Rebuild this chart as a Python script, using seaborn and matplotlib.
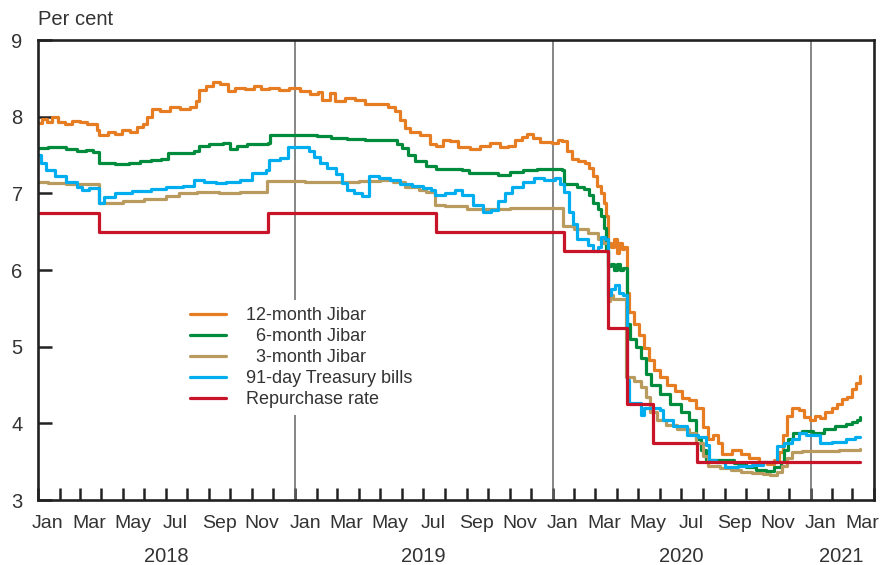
import pandas as pd
import matplotlib
matplotlib.use("Agg")
import matplotlib.pyplot as plt
import matplotlib.dates as mdates
import matplotlib.transforms as mtransforms
import seaborn as sns

# ---- data ----
jibar12_dates = [
    "2018-01-01", "2018-01-07", "2018-01-14", "2018-01-21", "2018-01-29", "2018-02-08",
    "2018-02-18", "2018-03-01", "2018-03-12", "2018-03-25", "2018-03-29", "2018-04-10",
    "2018-04-20", "2018-04-30", "2018-05-11", "2018-05-22", "2018-05-30", "2018-06-04",
    "2018-06-12", "2018-06-23", "2018-07-07", "2018-07-21", "2018-08-04", "2018-08-13",
    "2018-08-18", "2018-08-28", "2018-09-06", "2018-09-16", "2018-09-27", "2018-10-07",
    "2018-10-21", "2018-11-04", "2018-11-14", "2018-11-25", "2018-12-09", "2018-12-23",
    "2019-01-08", "2019-01-22", "2019-02-02", "2019-02-08", "2019-02-19", "2019-02-27",
    "2019-03-13", "2019-03-27", "2019-04-10", "2019-04-28", "2019-05-12", "2019-05-22",
    "2019-05-29", "2019-06-05", "2019-06-13", "2019-06-27", "2019-07-11", "2019-07-20",
    "2019-07-30", "2019-08-08", "2019-08-20", "2019-09-06", "2019-09-20", "2019-10-04",
    "2019-10-18", "2019-10-30", "2019-11-09", "2019-11-19", "2019-11-26", "2019-12-04",
    "2019-12-14", "2019-12-31", "2020-01-08", "2020-01-15", "2020-01-21", "2020-01-28",
    "2020-02-06", "2020-02-16", "2020-02-22", "2020-02-27", "2020-03-04", "2020-03-10",
    "2020-03-14", "2020-03-17", "2020-03-20", "2020-03-24", "2020-03-28", "2020-04-01",
    "2020-04-04", "2020-04-08", "2020-04-12", "2020-04-15", "2020-04-19", "2020-04-26",
    "2020-05-03", "2020-05-10", "2020-05-17", "2020-05-24", "2020-06-01", "2020-06-12",
    "2020-06-22", "2020-07-02", "2020-07-13", "2020-07-23", "2020-08-01", "2020-08-08",
    "2020-08-15", "2020-08-22", "2020-08-29", "2020-09-12", "2020-09-25", "2020-10-06",
    "2020-10-20", "2020-10-31", "2020-11-10", "2020-11-17", "2020-11-23", "2020-11-29",
    "2020-12-06", "2020-12-16", "2020-12-23", "2020-12-31", "2021-01-07", "2021-01-14",
    "2021-01-22", "2021-01-31", "2021-02-08", "2021-02-15", "2021-02-22", "2021-03-01",
    "2021-03-07", "2021-03-12",
]
jibar12_values = [
    7.92, 7.97, 7.93, 7.99, 7.93, 7.90,
    7.95, 7.93, 7.90, 7.82, 7.76, 7.80,
    7.77, 7.82, 7.80, 7.86, 7.90, 8.00,
    8.10, 8.08, 8.12, 8.10, 8.12, 8.20,
    8.35, 8.40, 8.45, 8.42, 8.33, 8.38,
    8.36, 8.40, 8.36, 8.38, 8.35, 8.37,
    8.34, 8.30, 8.32, 8.22, 8.31, 8.20,
    8.24, 8.22, 8.17, 8.16, 8.12, 8.07,
    7.96, 7.85, 7.80, 7.76, 7.65, 7.62,
    7.70, 7.68, 7.60, 7.58, 7.62, 7.66,
    7.60, 7.62, 7.70, 7.74, 7.78, 7.72,
    7.67, 7.66, 7.70, 7.68, 7.55, 7.45,
    7.42, 7.40, 7.33, 7.22, 7.10, 7.00,
    6.88, 6.70, 6.35, 6.30, 6.40, 6.22,
    6.35, 6.28, 6.30, 5.70, 5.45, 5.30,
    5.15, 4.98, 4.82, 4.70, 4.60, 4.50,
    4.42, 4.33, 4.30, 4.20, 3.95, 3.80,
    3.85, 3.75, 3.60, 3.65, 3.60, 3.55,
    3.50, 3.47, 3.52, 3.62, 3.85, 4.10,
    4.20, 4.18, 4.08, 4.05, 4.10, 4.07,
    4.15, 4.20, 4.25, 4.32, 4.35, 4.45,
    4.52, 4.62,
]

jibar6_dates = [
    "2018-01-01", "2018-01-15", "2018-02-10", "2018-02-25", "2018-03-10", "2018-03-20",
    "2018-03-29", "2018-04-20", "2018-05-10", "2018-05-25", "2018-06-10", "2018-06-25",
    "2018-07-05", "2018-07-25", "2018-08-10", "2018-08-18", "2018-09-01", "2018-09-20",
    "2018-10-01", "2018-10-10", "2018-10-25", "2018-11-10", "2018-11-23", "2018-11-26",
    "2019-02-01", "2019-02-20", "2019-03-15", "2019-04-10", "2019-05-10", "2019-05-25",
    "2019-06-01", "2019-06-10", "2019-06-20", "2019-07-05", "2019-07-20", "2019-08-10",
    "2019-08-25", "2019-09-05", "2019-09-25", "2019-10-15", "2019-11-01", "2019-11-20",
    "2019-12-10", "2020-01-15", "2020-01-17", "2020-02-05", "2020-02-15", "2020-02-22",
    "2020-02-28", "2020-03-05", "2020-03-10", "2020-03-14", "2020-03-17", "2020-03-20",
    "2020-03-24", "2020-03-28", "2020-04-01", "2020-04-05", "2020-04-10", "2020-04-15",
    "2020-04-20", "2020-04-28", "2020-05-05", "2020-05-12", "2020-05-20", "2020-06-01",
    "2020-06-15", "2020-07-01", "2020-07-12", "2020-07-23", "2020-07-30", "2020-08-06",
    "2020-09-01", "2020-09-15", "2020-10-01", "2020-10-15", "2020-10-30", "2020-11-10",
    "2020-11-20", "2020-11-25", "2020-11-30", "2020-12-07", "2020-12-20", "2021-01-05",
    "2021-01-20", "2021-02-05", "2021-02-20", "2021-03-01", "2021-03-08", "2021-03-12",
]
jibar6_values = [
    7.59, 7.60, 7.58, 7.55, 7.56, 7.54,
    7.39, 7.38, 7.40, 7.42, 7.43, 7.45,
    7.52, 7.52, 7.55, 7.62, 7.65, 7.66,
    7.58, 7.62, 7.64, 7.64, 7.66, 7.76,
    7.75, 7.72, 7.71, 7.70, 7.70, 7.65,
    7.59, 7.50, 7.42, 7.36, 7.32, 7.32,
    7.30, 7.26, 7.26, 7.24, 7.28, 7.30,
    7.32, 7.31, 7.12, 7.08, 7.06, 6.98,
    6.88, 6.80, 6.70, 6.55, 6.25, 6.05,
    6.08, 6.00, 6.08, 6.00, 6.02, 5.30,
    5.10, 5.00, 4.85, 4.65, 4.50, 4.38,
    4.25, 4.15, 4.05, 3.80, 3.65, 3.52,
    3.52, 3.48, 3.43, 3.39, 3.38, 3.43,
    3.50, 3.65, 3.80, 3.88, 3.90, 3.88,
    3.92, 3.96, 3.99, 4.02, 4.05, 4.08,
]

jibar3_dates = [
    "2018-01-01", "2018-01-15", "2018-02-10", "2018-03-28", "2018-05-01", "2018-06-01",
    "2018-07-01", "2018-07-20", "2018-08-15", "2018-09-15", "2018-10-15", "2018-11-22",
    "2019-01-15", "2019-03-01", "2019-04-01", "2019-05-01", "2019-05-20", "2019-06-05",
    "2019-06-25", "2019-07-05", "2019-07-18", "2019-08-01", "2019-09-01", "2019-10-01",
    "2019-11-01", "2019-12-01", "2020-01-16", "2020-02-01", "2020-02-20", "2020-03-05",
    "2020-03-12", "2020-03-19", "2020-03-23", "2020-03-27", "2020-04-14", "2020-04-25",
    "2020-05-05", "2020-05-12", "2020-05-18", "2020-05-28", "2020-06-10", "2020-06-25",
    "2020-07-13", "2020-07-23", "2020-08-01", "2020-08-08", "2020-08-25", "2020-09-10",
    "2020-09-25", "2020-10-10", "2020-10-25", "2020-11-05", "2020-11-15", "2020-11-22",
    "2020-11-28", "2020-12-05", "2020-12-20", "2021-01-15", "2021-02-10", "2021-03-01",
    "2021-03-12",
]
jibar3_values = [
    7.15, 7.13, 7.12, 6.88, 6.90, 6.93,
    6.97, 7.00, 7.02, 7.01, 7.02, 7.16,
    7.15, 7.15, 7.16, 7.17, 7.15, 7.08,
    7.04, 7.02, 6.85, 6.83, 6.80, 6.80,
    6.81, 6.81, 6.57, 6.54, 6.48, 6.40,
    6.35, 5.60, 5.68, 5.62, 4.60, 4.55,
    4.48, 4.35, 4.15, 4.05, 3.98, 3.92,
    3.88, 3.75, 3.58, 3.45, 3.42, 3.39,
    3.37, 3.35, 3.34, 3.33, 3.36, 3.45,
    3.55, 3.62, 3.64, 3.64, 3.65, 3.65,
    3.66,
]

tbill_dates = [
    "2018-01-01", "2018-01-05", "2018-01-12", "2018-01-25", "2018-02-10", "2018-02-25",
    "2018-03-05", "2018-03-15", "2018-03-28", "2018-04-05", "2018-04-20", "2018-05-15",
    "2018-06-10", "2018-07-01", "2018-07-25", "2018-08-10", "2018-08-25", "2018-09-10",
    "2018-09-25", "2018-10-15", "2018-11-01", "2018-11-20", "2018-11-25", "2018-12-10",
    "2018-12-22", "2019-01-15", "2019-01-20", "2019-01-27", "2019-02-05", "2019-02-15",
    "2019-02-28", "2019-03-08", "2019-03-15", "2019-03-25", "2019-04-05", "2019-04-15",
    "2019-04-30", "2019-05-15", "2019-05-30", "2019-06-15", "2019-07-01", "2019-07-12",
    "2019-07-18", "2019-08-01", "2019-08-15", "2019-08-25", "2019-09-10", "2019-09-25",
    "2019-10-05", "2019-10-15", "2019-10-25", "2019-11-05", "2019-11-20", "2019-12-05",
    "2019-12-20", "2020-01-05", "2020-01-12", "2020-01-17", "2020-01-24", "2020-01-30",
    "2020-02-05", "2020-02-20", "2020-02-28", "2020-03-05", "2020-03-10", "2020-03-15",
    "2020-03-19", "2020-03-24", "2020-03-30", "2020-04-04", "2020-04-10", "2020-04-15",
    "2020-04-18", "2020-05-06", "2020-05-10", "2020-06-01", "2020-06-05", "2020-06-20",
    "2020-07-10", "2020-07-25", "2020-08-05", "2020-08-10", "2020-08-20", "2020-09-01",
    "2020-09-20", "2020-10-10", "2020-10-25", "2020-11-15", "2020-11-25", "2020-12-05",
    "2020-12-15", "2020-12-25", "2021-01-15", "2021-02-01", "2021-02-20", "2021-03-05",
    "2021-03-12",
]
tbill_values = [
    7.50, 7.40, 7.30, 7.22, 7.15, 7.08,
    7.04, 7.07, 6.88, 6.95, 7.00, 7.03,
    7.06, 7.08, 7.10, 7.17, 7.15, 7.13,
    7.15, 7.18, 7.26, 7.30, 7.43, 7.46,
    7.60, 7.60, 7.55, 7.48, 7.40, 7.33,
    7.25, 7.13, 7.05, 7.00, 6.97, 7.22,
    7.20, 7.17, 7.12, 7.10, 7.07, 7.04,
    6.98, 7.00, 7.04, 6.98, 6.85, 6.76,
    6.78, 6.90, 7.00, 7.08, 7.15, 7.20,
    7.17, 7.20, 7.12, 7.02, 6.76, 6.60,
    6.40, 6.33, 6.25, 6.30, 6.43, 6.40,
    5.68, 5.75, 5.80, 5.70, 5.68, 4.56,
    4.26, 4.11, 4.20, 4.17, 4.04, 3.96,
    3.85, 3.82, 3.72, 3.52, 3.50, 3.43,
    3.45, 3.46, 3.50, 3.70, 3.74, 3.80,
    3.87, 3.85, 3.74, 3.76, 3.80, 3.82,
    3.82,
]

repo_dates = [
    "2018-01-01", "2018-03-29", "2018-11-23", "2019-07-19", "2020-01-17",
    "2020-03-20", "2020-04-15", "2020-05-22", "2020-07-24", "2021-03-12",
]
repo_values = [6.75, 6.50, 6.75, 6.50, 6.25, 5.25, 4.25, 3.75, 3.50, 3.50]

series = [
    ("12-month Jibar", jibar12_dates, jibar12_values, "#E67D22"),
    ("  6-month Jibar", jibar6_dates, jibar6_values, "#008C3C"),
    ("  3-month Jibar", jibar3_dates, jibar3_values, "#B99B5F"),
    ("91-day Treasury bills", tbill_dates, tbill_values, "#00AEEF"),
    ("Repurchase rate", repo_dates, repo_values, "#C81428"),
]

year_breaks = ["2019-01-01", "2020-01-01", "2021-01-01"]
year_labels = ["2018", "2019", "2020", "2021"]
year_label_pos = ["2018-07-02", "2019-07-02", "2020-07-02", "2021-02-14"]

# ---- plot ----
sns.set_theme(style="white")
plt.rcParams["font.family"] = ["Liberation Sans", "DejaVu Sans"]
text_col = "#333333"

fig = plt.figure(figsize=(8.8, 5.65), dpi=100)
ax = fig.add_axes([38 / 880, 1 - 500 / 565, 836 / 880, 460 / 565])

for label, d, v, col in series:
    df = pd.DataFrame({"date": pd.to_datetime(d), "value": v})
    sns.lineplot(data=df, x="date", y="value", ax=ax, color=col, lw=2.3,
                 drawstyle="steps-post", estimator=None, label=label)

for yb in year_breaks:
    ax.axvline(pd.Timestamp(yb), color="#666666", lw=1.1, zorder=1)

ax.set_xlim(pd.Timestamp("2018-01-01"), pd.Timestamp("2021-04-01"))
ax.set_ylim(3, 9)
ax.set_yticks(range(3, 10))
ax.set_xlabel("")
ax.set_ylabel("")

for s in ax.spines.values():
    s.set_color("#222222")
    s.set_linewidth(1.9)

ax.xaxis.set_minor_locator(mdates.MonthLocator())
ax.xaxis.set_major_locator(mdates.MonthLocator(bymonth=[1, 3, 5, 7, 9, 11], bymonthday=15))
ax.xaxis.set_major_formatter(mdates.DateFormatter("%b"))
ax.tick_params(axis="x", which="major", length=0, pad=11, labelsize=14, labelcolor=text_col)
ax.tick_params(axis="x", which="minor", direction="in", length=8.5, width=1.8,
               color="#222222", bottom=True)
ax.tick_params(axis="y", which="major", direction="in", length=10, width=1.8,
               color="#222222", left=True, right=False, pad=11, labelsize=14.5,
               labelcolor=text_col)

trans = mtransforms.blended_transform_factory(ax.transData, ax.transAxes)
for lab, pos in zip(year_labels, year_label_pos):
    ax.text(pd.Timestamp(pos), -0.122, lab, transform=trans, ha="center", va="center",
            fontsize=14.5, color=text_col)

fig.text(38 / 880, 1 - 25 / 565, "Per cent", ha="left", va="baseline",
         fontsize=14.5, color=text_col)

leg = ax.legend(loc="upper left", bbox_to_anchor=(0.162, 0.455), frameon=True,
                facecolor="white", edgecolor="none", framealpha=1, fancybox=False,
                fontsize=13, handlelength=2.0, handletextpad=1.1, labelspacing=0.22,
                borderpad=0.4)
for t in leg.get_texts():
    t.set_color(text_col)

plt.savefig("out.png", dpi=100)
plt.close()
